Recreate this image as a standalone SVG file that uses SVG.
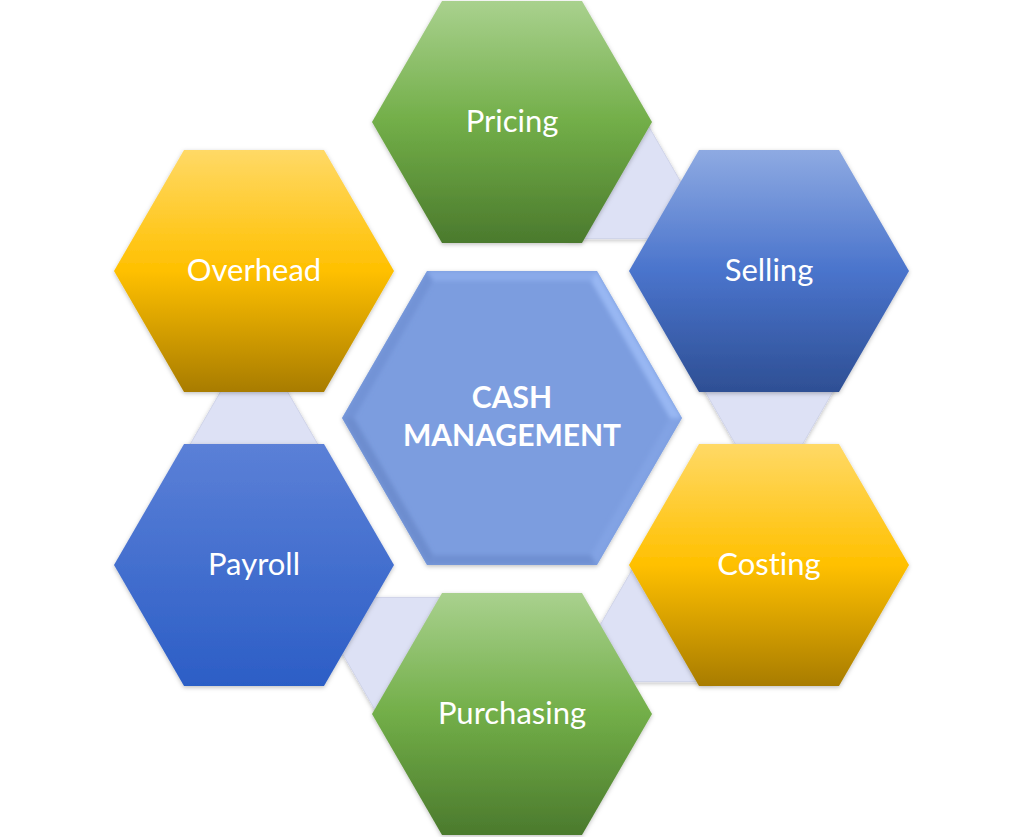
<svg xmlns="http://www.w3.org/2000/svg" width="1024" height="837" viewBox="0 0 1024 837">
<defs>
<linearGradient id="gGreen" x1="0" y1="0" x2="0" y2="1">
<stop offset="0" stop-color="#a9d18e"/><stop offset="0.5" stop-color="#72ae48"/><stop offset="1" stop-color="#4b7a2d"/>
</linearGradient>
<linearGradient id="gGold" x1="0" y1="0" x2="0" y2="1">
<stop offset="0" stop-color="#ffd966"/><stop offset="0.5" stop-color="#ffc000"/><stop offset="1" stop-color="#a87c00"/>
</linearGradient>
<linearGradient id="gBlue" x1="0" y1="0" x2="0" y2="1">
<stop offset="0" stop-color="#8eaae2"/><stop offset="0.5" stop-color="#4a74cc"/><stop offset="1" stop-color="#2e4f94"/>
</linearGradient>
<linearGradient id="gBlue2" x1="0" y1="0" x2="0" y2="1">
<stop offset="0" stop-color="#5b80d7"/><stop offset="1" stop-color="#2c5ec6"/>
</linearGradient>
<filter id="shadow" x="-10%" y="-10%" width="120%" height="120%">
<feDropShadow dx="0" dy="1.5" stdDeviation="2" flood-color="#000" flood-opacity="0.25"/>
</filter>
<filter id="soft" x="-5%" y="-5%" width="110%" height="110%">
<feGaussianBlur stdDeviation="2"/>
</filter>
<clipPath id="centerClip"><polygon points="342,418 427,271 597,271 682,418 597,565 427,565"/></clipPath>
</defs>
<style>
.tri{fill:#dde1f5;stroke:#cfd3e8;stroke-width:1;filter:url(#shadow)}
.hex{filter:url(#shadow)}
.lbl{font-family:Lato,"Open Sans","Liberation Sans",sans-serif;font-size:31px;fill:#ffffff;text-anchor:middle;font-variant-ligatures:none;font-feature-settings:"liga" 0,"dlig" 0}
.ctr{font-family:Lato,"Open Sans","Liberation Sans",sans-serif;font-size:30px;font-weight:bold;fill:#ffffff;text-anchor:middle}
</style>
<rect width="1024" height="837" fill="#ffffff"/>
<g id="connectors">
<polygon class="tri" points="640.5,112.2 713.5,238.6 567.5,238.6"/>
<polygon class="tri" points="696,375.9 842,375.9 769,502.3"/>
<polygon class="tri" points="640.5,555.2 713.5,681.6 567.5,681.6"/>
<polygon class="tri" points="310,597.4 456,597.4 383,723.8"/>
<polygon class="tri" points="254,333.7 327,460.1 181,460.1"/>
</g>
<g id="node-pricing">
<polygon class="hex" fill="url(#gGreen)" points="372,122 442,1 582,1 652,122 582,243 442,243"/>
<text class="lbl" x="512" y="132">Pricing</text>
</g>
<g id="node-selling">
<polygon class="hex" fill="url(#gBlue)" points="629,271 699,150 839,150 909,271 839,392 699,392"/>
<text class="lbl" x="769" y="281">Selling</text>
</g>
<g id="node-costing">
<polygon class="hex" fill="url(#gGold)" points="629,565 699,444 839,444 909,565 839,686 699,686"/>
<text class="lbl" x="769" y="575">Costing</text>
</g>
<g id="node-purchasing">
<polygon class="hex" fill="url(#gGreen)" points="372,714 442,593 582,593 652,714 582,835 442,835"/>
<text class="lbl" x="512" y="724">Purchasing</text>
</g>
<g id="node-payroll">
<polygon class="hex" fill="url(#gBlue2)" points="114,565 184,444 324,444 394,565 324,686 184,686"/>
<text class="lbl" x="254" y="575">Payroll</text>
</g>
<g id="node-overhead">
<polygon class="hex" fill="url(#gGold)" points="114,271 184,150 324,150 394,271 324,392 184,392"/>
<text class="lbl" x="254" y="281">Overhead</text>
</g>
<g id="node-cash-management">
<polygon fill="#7b9ddf" filter="url(#shadow)" points="342,418 427,271 597,271 682,418 597,565 427,565"/>
<g clip-path="url(#centerClip)" filter="url(#soft)">
<polygon fill="#8aaaea" points="427,271 597,271 591,281 433,281"/>
<polygon fill="#98b7f3" points="597,271 682,418 670,418 591,281"/>
<polygon fill="#82a3e4" points="682,418 597,565 591,555 670,418"/>
<polygon fill="#7090d2" points="597,565 427,565 433,555 591,555"/>
<polygon fill="#6d8dcf" points="427,565 342,418 354,418 433,555"/>
<polygon fill="#7293d6" points="342,418 427,271 433,281 354,418"/>
</g>
<text class="ctr" x="512" y="408">CASH</text>
<text class="ctr" x="512" y="446">MANAGEMENT</text>
</g>
</svg>
